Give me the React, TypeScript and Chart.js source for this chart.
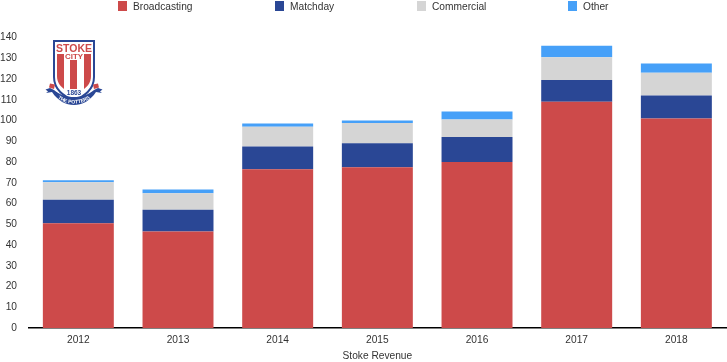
import React, { useEffect, useRef } from "react";
import { Chart, registerables } from "chart.js";

Chart.register(...registerables);

const years = ["2012", "2013", "2014", "2015", "2016", "2017", "2018"];
const broadcasting = [50.5, 46.5, 76.5, 77.5, 80, 109, 101];
const matchday = [11.3, 10.5, 11, 11.5, 12, 10.5, 11];
const commercial = [8.4, 8, 9.5, 9.8, 8.5, 11, 11];
const other = [1, 1.8, 1.5, 1.2, 3.8, 5.5, 4.5];
const legendX = [118, 275, 417, 568];
const FONT = "Liberation Sans";
const TEXT = "#333333";
const SIZE = 10.2;

const legendPlugin = {
  id: "topLegend",
  afterDraw(chart: any) {
    const { ctx } = chart;
    ctx.save();
    ctx.font = `${SIZE}px "${FONT}"`;
    ctx.textBaseline = "middle";
    ctx.textAlign = "left";
    chart.data.datasets.forEach((ds: any, i: number) => {
      ctx.fillStyle = ds.backgroundColor;
      ctx.fillRect(legendX[i], 1, 9, 10);
      ctx.fillStyle = TEXT;
      ctx.fillText(ds.label, legendX[i] + 15, 7);
    });
    ctx.restore();
  },
};

function Crest() {
  const red = "#cd4a4a";
  const blue = "#2a4795";
  return (
    <svg width="68" height="74" viewBox="40 36 68 74" style={{ position: "absolute", left: 40, top: 36 }}>
      <path d="M54 41 H94 V77 C94 90 84 96 74 101 C64 96 54 90 54 77 Z" fill="#fff" stroke={blue} strokeWidth="2" />
      <path d="M57 54 H64 V89 C60 86 57 82 57 76 Z" fill={red} />
      <rect x="70" y="60" width="7" height="29" fill={red} />
      <path d="M84 54 H91 V76 C91 82 88 86 84 89 Z" fill={red} />
      <text x="74" y="52" textAnchor="middle" fontFamily={FONT} fontWeight="700" fontSize="10.5" fill={red} textLength="36" lengthAdjust="spacingAndGlyphs">STOKE</text>
      <text x="74" y="59" textAnchor="middle" fontFamily={FONT} fontWeight="700" fontSize="6.5" fill={red} textLength="18" lengthAdjust="spacingAndGlyphs">CITY</text>
      <text x="74" y="94.5" textAnchor="middle" fontFamily={FONT} fontWeight="700" fontSize="6.5" fill={blue}>1863</text>
      <path d="M50 88 L45.5 89.5 L48 91.5 L46 93 L52 92 C58 101 66 105 74 105 C82 105 90 101 96 92 L102 93 L100 91.5 L102.5 89.5 L98 88 L94 90 C88 95 81 97 74 97 C67 97 60 95 54 90 Z" fill={blue} />
      <path d="M50 83.5 L55 84.5 L54 89 L49 87.5 Z" fill={red} />
      <path d="M98 83.5 L93 84.5 L94 89 L99 87.5 Z" fill={red} />
      <path id="crestArc" d="M53 93.5 C60 102 67 103.5 74 103.5 C81 103.5 88 102 95 93.5" fill="none" />
      <text fontFamily={FONT} fontWeight="700" fontSize="5" fill="#fff" textAnchor="middle">
        <textPath href="#crestArc" startOffset="50%">THE POTTERS</textPath>
      </text>
    </svg>
  );
}

export default function App() {
  const ref = useRef<HTMLCanvasElement>(null);
  useEffect(() => {
    const chart = new Chart(ref.current!, {
      type: "bar",
      data: {
        labels: years,
        datasets: [
          { label: "Broadcasting", data: broadcasting, backgroundColor: "#cd4a4a" },
          { label: "Matchday", data: matchday, backgroundColor: "#2a4795" },
          { label: "Commercial", data: commercial, backgroundColor: "#d5d5d5" },
          { label: "Other", data: other, backgroundColor: "#46a0f8" },
        ],
      },
      options: {
        animation: false,
        responsive: false,
        layout: { padding: { top: 37.5, left: 0, right: 0.8, bottom: 0 } },
        plugins: { legend: { display: false }, tooltip: { enabled: false } },
        datasets: { bar: { categoryPercentage: 1, barPercentage: 0.712 } },
        scales: {
          x: {
            stacked: true,
            grid: { display: false, drawTicks: false },
            border: { display: true, color: "#000000", width: 1.5 },
            ticks: { color: TEXT, font: { family: FONT, size: SIZE }, padding: 6, maxRotation: 0 },
            title: { display: true, text: "Stoke Revenue", color: TEXT, font: { family: FONT, size: SIZE }, padding: { top: 9, bottom: 0 } },
            afterFit(s: any) { s.height = 34; },
          },
          y: {
            stacked: true,
            min: 0,
            max: 140,
            grid: { display: false, drawTicks: false },
            border: { display: false },
            ticks: { color: TEXT, font: { family: FONT, size: SIZE }, stepSize: 10, padding: 11.5 },
            afterFit(s: any) { s.width = 28.5; },
          },
        },
      },
      plugins: [legendPlugin],
    } as any);
    return () => chart.destroy();
  }, []);
  return (
    <div style={{ position: "absolute", left: 0, top: 0, width: 727, height: 362, background: "#fff" }}>
      <canvas ref={ref} width={727} height={362} style={{ display: "block" }} />
      <Crest />
    </div>
  );
}
